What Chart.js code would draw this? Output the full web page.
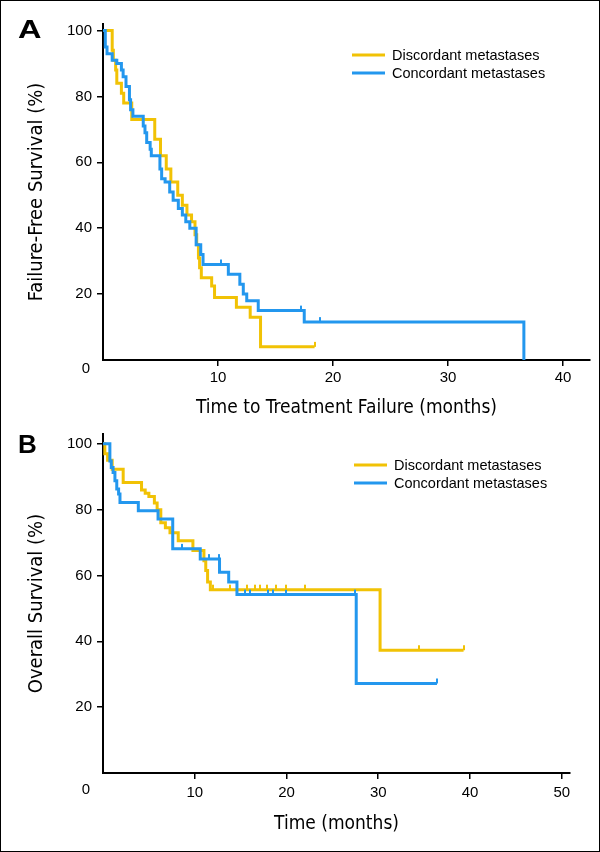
<!DOCTYPE html>
<html>
<head>
<meta charset="utf-8">
<script src="https://cdn.jsdelivr.net/npm/chart.js@4"></script>
<style>
  html, body { margin: 0; padding: 0; background: #fff; }
  #page { position: relative; width: 600px; height: 852px; overflow: hidden; }
  #frame { position: absolute; left: 0; top: 0; width: 600px; height: 852px; box-sizing: border-box; border: 1px solid #000; pointer-events: none; }
  .box { position: absolute; left: 0; width: 600px; }
  #boxA { top: 0; height: 420px; }
  #boxB { top: 420px; height: 432px; }
  .tag { position: absolute; left: 18px; font: bold 26px "Liberation Sans", Arial, sans-serif; line-height: 1; color: #000; }
</style>
</head>
<body>
<div id="page">
  <div class="box" id="boxA"><canvas id="chartA" width="600" height="420"></canvas></div>
  <div class="box" id="boxB"><canvas id="chartB" width="600" height="432"></canvas></div>
  <div class="tag" style="top:16px; transform: scaleX(1.25); transform-origin: left;">A</div>
  <div class="tag" style="top:431px">B</div>
  <div id="frame"></div>
</div>
<script>
const YELLOW = "#f1c205";
const BLUE = "#2397ee";
const TICK_FONT = "'Liberation Sans', Arial, sans-serif";
const TITLE_FONT = "'Liberation Sans Narrow', 'DejaVu Sans Condensed', sans-serif";

const seriesNames = ["Discordant metastases", "Concordant metastases"];
const yTicks = [20, 40, 60, 80, 100];
const xTicksA = [10, 20, 30, 40];
const xTicksB = [10, 20, 30, 40, 50];

// A: failure-free survival
const timeDiscA = [0, 0.8, 0.9, 1.1, 1.2, 1.6, 1.8, 2.5, 4.5, 5.0, 5.5, 5.9, 6.5, 6.9, 7.3, 7.7, 8.0, 8.15, 8.3, 8.4, 8.55, 9.45, 9.7, 11.6, 12.8, 13.7, 18.4];
const survDiscA = [100, 94, 91, 88, 84, 81, 78, 73, 67, 62, 58, 54, 50, 47, 44, 42, 38, 35, 31, 28, 25, 22.5, 19, 16, 13, 4, 4];
const timeConcA = [0, 0.2, 0.35, 0.8, 1.2, 1.6, 1.75, 2.0, 2.3, 2.4, 2.6, 3.5, 3.65, 3.8, 4.1, 4.2, 4.95, 5.1, 5.4, 5.8, 6.1, 6.55, 6.9, 7.2, 7.55, 8.1, 8.5, 8.7, 10.9, 11.9, 12.2, 12.5, 13.5, 17.5, 36.6];
const survConcA = [100, 95, 93, 91, 90, 88, 86, 83, 79, 76, 74, 71, 69, 66, 64, 62, 58, 55, 54, 51, 48.5, 46, 44, 42, 40, 35, 32, 29, 26, 23, 20, 18, 15, 11.5, 0];
const censTimeDiscA = [18.4];
const censSurvDiscA = [4];
const censTimeConcA = [10.3, 17.2, 18.9];
const censSurvConcA = [29, 15, 11.5];

// B: overall survival
const timeDiscB = [0, 0.2, 0.5, 1.0, 2.2, 4.2, 4.6, 5.0, 5.6, 5.9, 6.3, 6.8, 7.3, 8.2, 9.8, 11.0, 11.2, 11.4, 11.7, 30.2, 39.3];
const survDiscB = [100, 97, 95, 92.3, 88.3, 86, 85, 84, 82, 80, 76, 74.5, 73, 70.6, 67.6, 64.5, 61.5, 58, 55.7, 37.3, 37.3];
const timeConcB = [0, 0.75, 0.9, 1.1, 1.3, 1.5, 1.7, 1.85, 3.85, 6.0, 7.6, 10.6, 12.7, 13.7, 14.6, 27.6, 36.4];
const survConcB = [100, 94.8, 92.8, 91.3, 88.8, 86.3, 84.8, 82.2, 79.7, 77.2, 68.1, 65, 61, 58, 54.2, 27.2, 27.2];
const censTimeDiscB = [12.0, 13.8, 15.7, 16.6, 17.1, 17.9, 18.9, 20.0, 22.0, 34.4, 39.3];
const censSurvDiscB = [55.7, 55.7, 55.7, 55.7, 55.7, 55.7, 55.7, 55.7, 55.7, 37.3, 37.3];
const censTimeConcB = [8.6, 11.6, 12.6, 15.5, 16.0, 18.0, 18.5, 20.0, 27.5, 36.4];
const censSurvConcB = [68.1, 65, 65, 54.2, 54.2, 54.2, 54.2, 54.2, 54.2, 27.2];

function points(xs, ys) {
  return xs.map((x, i) => ({ x, y: ys[i] }));
}

// small upward tick used as censor mark
function tickMark(color) {
  const c = document.createElement("canvas");
  c.width = 2;
  c.height = 12;
  const g = c.getContext("2d");
  g.fillStyle = color;
  g.fillRect(0, 1, 2, 5);
  return c;
}

function curve(label, color, xs, ys, order) {
  return {
    label,
    data: points(xs, ys),
    borderColor: color,
    borderWidth: 3,
    stepped: "before",
    pointRadius: 0,
    fill: false,
    order,
  };
}

function censored(color, xs, ys, order) {
  return {
    label: "",
    data: points(xs, ys),
    showLine: false,
    pointStyle: tickMark(color),
    pointRadius: 3,
    borderColor: color,
    backgroundColor: color,
    order,
  };
}

const extras = {
  id: "extras",
  afterDraw(chart, args, opts) {
    const { ctx, chartArea } = chart;
    ctx.save();
    ctx.fillStyle = "#000";
    ctx.font = "15px " + TICK_FONT;
    ctx.textAlign = "center";
    ctx.textBaseline = "middle";
    ctx.fillText("0", chartArea.left - 17, chartArea.bottom + opts.zeroDy);

    ctx.font = "14.5px " + TICK_FONT;
    ctx.textAlign = "left";
    [YELLOW, BLUE].forEach((color, i) => {
      const y = opts.legendY + i * 18;
      ctx.strokeStyle = color;
      ctx.lineWidth = 3;
      ctx.beginPath();
      ctx.moveTo(opts.legendX, y);
      ctx.lineTo(opts.legendX + 33, y);
      ctx.stroke();
      ctx.fillText(seriesNames[i], opts.legendX + 40, y + 1);
    });
    ctx.restore();
  },
};

function buildChart(canvasId, cfg) {
  return new Chart(document.getElementById(canvasId), {
    type: "line",
    data: {
      datasets: [
        curve(seriesNames[0], YELLOW, cfg.discT, cfg.discS, 2),
        curve(seriesNames[1], BLUE, cfg.concT, cfg.concS, 1),
        censored(YELLOW, cfg.censDiscT, cfg.censDiscS, 0),
        censored(BLUE, cfg.censConcT, cfg.censConcS, 0),
      ],
    },
    options: {
      responsive: false,
      animation: false,
      layout: { padding: { top: cfg.padTop, right: cfg.padRight, left: 0, bottom: 0 } },
      plugins: {
        legend: { display: false },
        tooltip: { enabled: false },
        extras: { zeroDy: cfg.zeroDy, legendX: cfg.legendX, legendY: cfg.legendY },
      },
      scales: {
        x: {
          type: "linear",
          min: 0,
          max: cfg.xMax,
          afterBuildTicks: (s) => { s.ticks = cfg.xTicks.map((v) => ({ value: v })); },
          afterFit: (s) => { s.height = cfg.xAxisHeight; },
          ticks: { color: "#000", font: { size: 15, family: TICK_FONT }, padding: cfg.xTickPad, maxRotation: 0 },
          grid: { drawOnChartArea: false, tickLength: 6, color: "#000", lineWidth: 1.5 },
          border: { color: "#000", width: 2 },
          title: {
            display: true,
            text: cfg.xTitle,
            color: "#000",
            font: { size: 19, family: TITLE_FONT },
            padding: { top: 0, bottom: cfg.xTitlePad },
          },
        },
        y: {
          min: 0,
          max: cfg.yMax,
          afterBuildTicks: (s) => { s.ticks = yTicks.map((v) => ({ value: v })); },
          afterFit: (s) => { s.width = 103; },
          ticks: { color: "#000", font: { size: 15, family: TICK_FONT }, padding: 5 },
          grid: { drawOnChartArea: false, tickLength: 6, color: "#000", lineWidth: 1.5 },
          border: { color: "#000", width: 2 },
          title: {
            display: true,
            text: cfg.yTitle,
            color: "#000",
            font: { size: 20, family: TITLE_FONT },
            padding: { top: 25, bottom: 0 },
          },
        },
      },
    },
    plugins: [extras],
  });
}

buildChart("chartA", {
  discT: timeDiscA, discS: survDiscA, concT: timeConcA, concS: survConcA,
  censDiscT: censTimeDiscA, censDiscS: censSurvDiscA, censConcT: censTimeConcA, censConcS: censSurvConcA,
  xMax: 42.35, yMax: 102, xTicks: xTicksA,
  padTop: 24, padRight: 10, xAxisHeight: 60, xTickPad: 3, xTitlePad: 1,
  xTitle: "Time to Treatment Failure (months)",
  yTitle: "Failure-Free Survival (%)",
  zeroDy: 9, legendX: 352, legendY: 55,
});

buildChart("chartB", {
  discT: timeDiscB, discS: survDiscB, concT: timeConcB, concS: survConcB,
  censDiscT: censTimeDiscB, censDiscS: censSurvDiscB, censConcT: censTimeConcB, censConcS: censSurvConcB,
  xMax: 50.9, yMax: 103, xTicks: xTicksB,
  padTop: 13, padRight: 30, xAxisHeight: 79, xTickPad: 5, xTitlePad: 17,
  xTitle: "Time (months)",
  yTitle: "Overall Survival (%)",
  zeroDy: 17, legendX: 354, legendY: 45,
});
</script>
</body>
</html>
